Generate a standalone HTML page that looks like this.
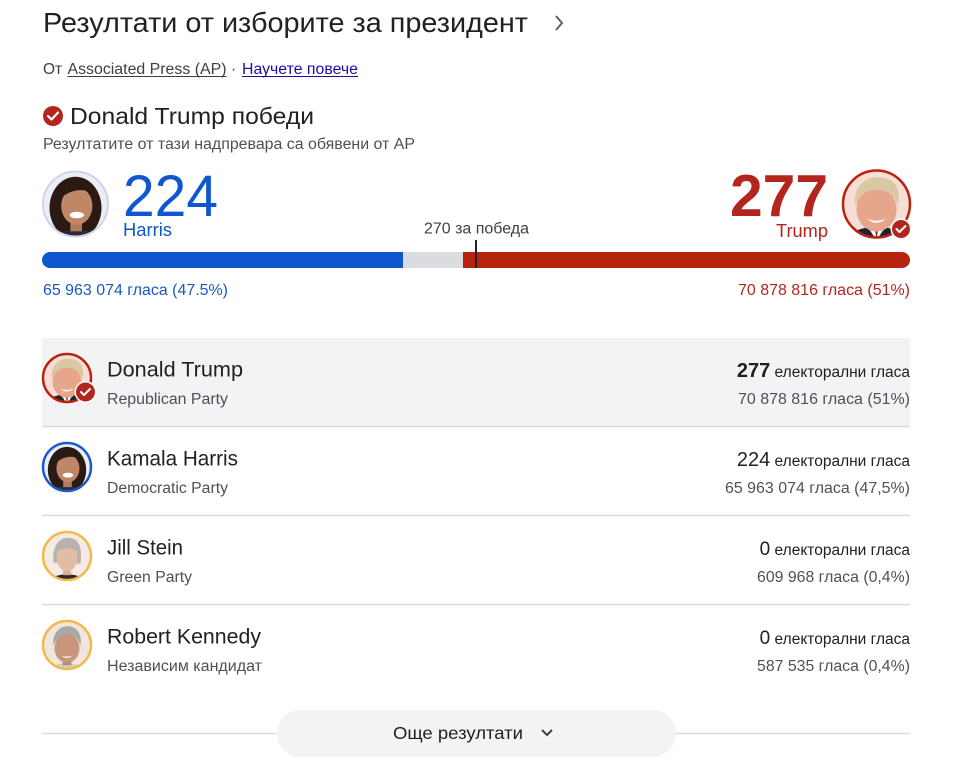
<!DOCTYPE html>
<html>
<head>
<meta charset="utf-8">
<style>
html,body{margin:0;padding:0;background:#fff;}
svg{display:block;}
</style>
</head>
<body>
<svg width="973" height="768" viewBox="0 0 973 768" xmlns="http://www.w3.org/2000/svg" font-family="'Liberation Sans', Arial, sans-serif">
<defs>
  <clipPath id="cc"><circle cx="50" cy="50" r="50"/></clipPath>
  <g id="trump">
    <g clip-path="url(#cc)">
      <rect width="100" height="100" fill="#f6ddd6"/>
      <ellipse cx="50" cy="116" rx="52" ry="32" fill="#1d2230"/>
      <path d="M38,86 L50,104 L62,86 Z" fill="#ffffff"/>
      <path d="M48,90 L50,104 L52,90 Z" fill="#a8201a"/>
      <rect x="39" y="74" width="22" height="16" fill="#dc9a82"/>
      <ellipse cx="50" cy="58" rx="30" ry="33" fill="#e7a58c"/>
      <path d="M18,54 C14,22 36,8 54,10 C76,11 88,26 82,54 C78,36 66,29 50,29 C34,29 24,38 18,54 Z" fill="#d9c8a2"/>
      <path d="M36,72 Q50,84 64,72 Q50,78 36,72 Z" fill="#ffffff"/>
    </g>
  </g>
  <g id="harris">
    <g clip-path="url(#cc)">
      <rect width="100" height="100" fill="#eceef5"/>
      <ellipse cx="50" cy="56" rx="40" ry="48" fill="#2a1a13"/>
      <ellipse cx="50" cy="114" rx="46" ry="24" fill="#2c2a33"/>
      <rect x="42" y="74" width="18" height="18" fill="#b07a5d"/>
      <ellipse cx="52" cy="53" rx="24" ry="29" fill="#bf8768"/>
      <path d="M26,42 C30,18 62,12 76,34 C64,26 44,26 26,42 Z" fill="#2a1a13"/>
      <ellipse cx="52" cy="67" rx="11" ry="5" fill="#ffffff"/>
    </g>
  </g>
  <g id="stein">
    <g clip-path="url(#cc)">
      <rect width="100" height="100" fill="#f4ece4"/>
      <ellipse cx="50" cy="114" rx="46" ry="26" fill="#2b2b2b"/>
      <rect x="42" y="74" width="16" height="16" fill="#d7ad97"/>
      <path d="M22,64 C18,26 36,12 52,12 C70,12 84,26 78,66 L70,66 L70,40 L31,40 L31,64 Z" fill="#b8b4ad"/>
      <ellipse cx="50" cy="55" rx="21" ry="27" fill="#e3bca6"/>
      <path d="M28,42 C34,22 66,22 72,42 C62,32 40,32 28,42 Z" fill="#b8b4ad"/>
    </g>
  </g>
  <g id="kennedy">
    <g clip-path="url(#cc)">
      <rect width="100" height="100" fill="#efe7dc"/>
      <ellipse cx="50" cy="116" rx="48" ry="28" fill="#d2cdc6"/>
      <rect x="41" y="76" width="18" height="16" fill="#b88a70"/>
      <ellipse cx="50" cy="57" rx="26" ry="30" fill="#c8977b"/>
      <path d="M22,52 C18,22 38,10 52,11 C70,12 82,26 78,52 C74,36 64,29 50,29 C36,29 27,37 22,52 Z" fill="#a9a8a3"/>
      <path d="M38,72 Q50,82 62,72 Q50,77 38,72 Z" fill="#ffffff"/>
    </g>
  </g>
</defs>

<rect width="973" height="768" fill="#ffffff"/>

<!-- Title -->
<text x="43" y="32" font-size="28" fill="#202124" textLength="485" lengthAdjust="spacingAndGlyphs">Резултати от изборите за президент</text>
<polyline points="556,16 562,23 556,30" fill="none" stroke="#5f6368" stroke-width="2"/>

<!-- Source line -->
<text x="43" y="74" font-size="15.5" fill="#3c4043">От</text>
<text x="67.5" y="74" font-size="15.5" fill="#3c4043" textLength="159" lengthAdjust="spacingAndGlyphs">Associated Press (AP)</text>
<line x1="67.5" y1="76.5" x2="226.5" y2="76.5" stroke="#3c4043" stroke-width="1"/>
<text x="231" y="74" font-size="15.5" fill="#3c4043">·</text>
<text x="242" y="74" font-size="15.5" fill="#1a0dab" textLength="116" lengthAdjust="spacingAndGlyphs">Научете повече</text>
<line x1="242" y1="76.5" x2="358" y2="76.5" stroke="#1a0dab" stroke-width="1"/>

<!-- Winner -->
<circle cx="53" cy="116" r="10" fill="#b3261e"/>
<polyline points="48,116 51.5,119.5 58,112.5" fill="none" stroke="#ffffff" stroke-width="2.2" stroke-linecap="round" stroke-linejoin="round"/>
<text x="70" y="124" font-size="23" fill="#202124" textLength="244" lengthAdjust="spacingAndGlyphs">Donald Trump победи</text>
<text x="43" y="149" font-size="15.5" fill="#4d5156" textLength="372" lengthAdjust="spacingAndGlyphs">Резултатите от тази надпревара са обявени от AP</text>

<!-- Harris big -->
<use href="#harris" transform="translate(43,171.5) scale(0.65)"/>
<circle cx="75.5" cy="204" r="32.5" fill="none" stroke="#cfd5ea" stroke-width="2"/>
<text x="123" y="216" font-size="58" fill="#0f57d0" textLength="95" lengthAdjust="spacingAndGlyphs">224</text>
<text x="123" y="236" font-size="18" fill="#0f57d0" textLength="49" lengthAdjust="spacingAndGlyphs">Harris</text>

<!-- Trump big -->
<use href="#trump" transform="translate(843,170.5) scale(0.67)"/>
<circle cx="876.5" cy="204" r="33.5" fill="none" stroke="#b8230f" stroke-width="2.5"/>
<circle cx="901" cy="229" r="10.5" fill="#ffffff"/>
<circle cx="901" cy="229" r="9" fill="#b3261e"/>
<polyline points="896.5,229 899.5,232 905.5,226" fill="none" stroke="#ffffff" stroke-width="2" stroke-linecap="round" stroke-linejoin="round"/>
<text x="828" y="216" font-size="59" font-weight="bold" fill="#b3261e" text-anchor="end" textLength="98" lengthAdjust="spacingAndGlyphs">277</text>
<text x="828" y="237" font-size="18" fill="#b3261e" text-anchor="end" textLength="52" lengthAdjust="spacingAndGlyphs">Trump</text>

<!-- 270 label -->
<text x="424" y="233.5" font-size="15.5" fill="#3c4043" textLength="105" lengthAdjust="spacingAndGlyphs">270 за победа</text>

<!-- Bar -->
<rect x="42" y="252" width="40" height="16" rx="8" fill="#0f57d0"/>
<rect x="52" y="252" width="351" height="16" fill="#0f57d0"/>
<rect x="403" y="252" width="60" height="16" fill="#dadce0"/>
<rect x="463" y="252" width="430" height="16" fill="#b8230f"/>
<rect x="870" y="252" width="40" height="16" rx="8" fill="#b8230f"/>
<line x1="476" y1="240" x2="476" y2="268" stroke="#202124" stroke-width="2"/>

<!-- Vote labels -->
<text x="43" y="295" font-size="15.5" fill="#1a57c6" textLength="185" lengthAdjust="spacingAndGlyphs">65 963 074 гласа (47.5%)</text>
<text x="910" y="295" font-size="15.5" fill="#b3261e" text-anchor="end" textLength="172" lengthAdjust="spacingAndGlyphs">70 878 816 гласа (51%)</text>

<!-- Rows -->
<rect x="42" y="338" width="868" height="88" fill="#f1f3f4"/>
<line x1="42" y1="426.5" x2="910" y2="426.5" stroke="#dadce0" stroke-width="1.5"/>
<line x1="42" y1="515.5" x2="910" y2="515.5" stroke="#dadce0" stroke-width="1.5"/>
<line x1="42" y1="604.5" x2="910" y2="604.5" stroke="#dadce0" stroke-width="1.5"/>

<!-- Row 1: Trump -->
<use href="#trump" transform="translate(43,354) scale(0.48)"/>
<circle cx="67" cy="378" r="24" fill="none" stroke="#b8230f" stroke-width="2.5"/>
<circle cx="85.5" cy="392" r="11" fill="#ffffff"/>
<circle cx="85.5" cy="392" r="9.5" fill="#b3261e"/>
<polyline points="81,392 84,395 90,389" fill="none" stroke="#ffffff" stroke-width="2" stroke-linecap="round" stroke-linejoin="round"/>
<text x="107" y="376.5" font-size="21" fill="#202124" textLength="136" lengthAdjust="spacingAndGlyphs">Donald Trump</text>
<text x="107" y="404" font-size="15.5" fill="#4d5156" textLength="121" lengthAdjust="spacingAndGlyphs">Republican Party</text>
<text x="910" y="377" text-anchor="end" fill="#202124"><tspan font-size="20" font-weight="bold">277</tspan><tspan font-size="15.5"> електорални гласа</tspan></text>
<text x="910" y="404" font-size="15.5" fill="#4d5156" text-anchor="end" textLength="172" lengthAdjust="spacingAndGlyphs">70 878 816 гласа (51%)</text>

<!-- Row 2: Harris -->
<use href="#harris" transform="translate(43,443) scale(0.48)"/>
<circle cx="67" cy="467" r="24" fill="none" stroke="#1a5bc9" stroke-width="2.5"/>
<text x="107" y="465.5" font-size="21" fill="#202124" textLength="131" lengthAdjust="spacingAndGlyphs">Kamala Harris</text>
<text x="107" y="493" font-size="15.5" fill="#4d5156" textLength="121" lengthAdjust="spacingAndGlyphs">Democratic Party</text>
<text x="910" y="466" text-anchor="end" fill="#202124"><tspan font-size="20">224</tspan><tspan font-size="15.5"> електорални гласа</tspan></text>
<text x="910" y="493" font-size="15.5" fill="#4d5156" text-anchor="end" textLength="185" lengthAdjust="spacingAndGlyphs">65 963 074 гласа (47,5%)</text>

<!-- Row 3: Stein -->
<use href="#stein" transform="translate(43,532) scale(0.48)"/>
<circle cx="67" cy="556" r="24" fill="none" stroke="#f2b84b" stroke-width="2.5"/>
<text x="107" y="554.5" font-size="21" fill="#202124" textLength="76" lengthAdjust="spacingAndGlyphs">Jill Stein</text>
<text x="107" y="582" font-size="15.5" fill="#4d5156" textLength="85" lengthAdjust="spacingAndGlyphs">Green Party</text>
<text x="910" y="555" text-anchor="end" fill="#202124"><tspan font-size="19">0</tspan><tspan font-size="15.5"> електорални гласа</tspan></text>
<text x="910" y="582" font-size="15.5" fill="#4d5156" text-anchor="end" textLength="153" lengthAdjust="spacingAndGlyphs">609 968 гласа (0,4%)</text>

<!-- Row 4: Kennedy -->
<use href="#kennedy" transform="translate(43,621) scale(0.48)"/>
<circle cx="67" cy="645" r="24" fill="none" stroke="#f2b84b" stroke-width="2.5"/>
<text x="107" y="643.5" font-size="21" fill="#202124" textLength="154" lengthAdjust="spacingAndGlyphs">Robert Kennedy</text>
<text x="107" y="671" font-size="15.5" fill="#4d5156" textLength="155" lengthAdjust="spacingAndGlyphs">Независим кандидат</text>
<text x="910" y="644" text-anchor="end" fill="#202124"><tspan font-size="19">0</tspan><tspan font-size="15.5"> електорални гласа</tspan></text>
<text x="910" y="671" font-size="15.5" fill="#4d5156" text-anchor="end" textLength="153" lengthAdjust="spacingAndGlyphs">587 535 гласа (0,4%)</text>

<!-- More results -->
<line x1="42" y1="733.5" x2="910" y2="733.5" stroke="#dadce0" stroke-width="1.5"/>
<rect x="277" y="710" width="399" height="47" rx="23.5" fill="#f1f3f4"/>
<text x="393" y="739" font-size="17.5" fill="#202124" textLength="130" lengthAdjust="spacingAndGlyphs">Още резултати</text>
<polyline points="542,730 547,735 552,730" fill="none" stroke="#3c4043" stroke-width="2"/>
</svg>
</body>
</html>
